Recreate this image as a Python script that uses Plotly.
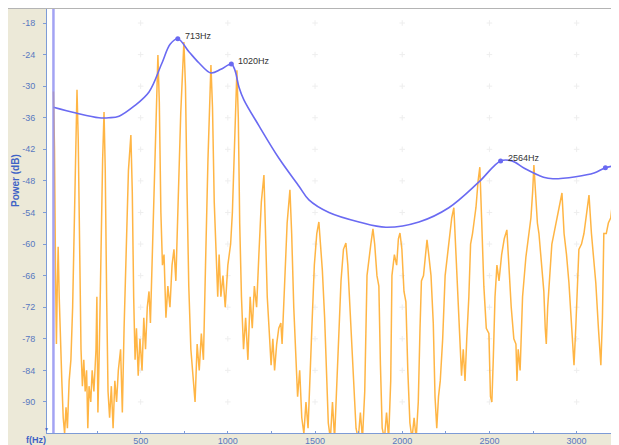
import plotly.graph_objects as go

# ---------------- data ----------------
spec_freq = [
    0, 6, 12, 17, 22, 27, 33, 40, 48, 56, 64, 72, 80, 90, 100, 110, 120, 128, 135,
    142, 150, 158, 166, 174, 182, 190, 197, 204, 214, 222, 232, 244, 249, 255, 263, 272, 282, 290,
    297, 305, 313, 322, 332, 342, 352, 362, 372, 385, 395, 405, 418, 430, 444,
    452, 460, 468, 476, 486, 496, 508, 518, 528, 538, 548, 556, 566, 578, 590, 599,
    607, 616, 625, 634, 645, 656, 668, 680, 691, 702, 715, 730, 748,
    757, 766, 776, 788, 800, 812, 824, 836, 848, 860, 872, 886, 903,
    912, 922, 932, 942, 950, 960, 972, 985, 1000, 1016, 1026, 1038, 1052,
    1060, 1068, 1078, 1090, 1102, 1115, 1128, 1140, 1152, 1165, 1178, 1192, 1207,
    1216, 1226, 1238, 1248, 1258, 1268, 1280, 1292, 1304, 1311, 1325, 1340, 1356,
    1366, 1378, 1390, 1400, 1412, 1424, 1436, 1448, 1460, 1472, 1484, 1496, 1510, 1522,
    1532, 1542, 1555, 1566, 1576, 1588, 1600, 1612, 1624, 1636, 1649, 1663, 1677,
    1688, 1700, 1712, 1723, 1735, 1748, 1760, 1772, 1785, 1798, 1810, 1820, 1832,
    1842, 1855, 1866, 1875, 1885, 1898, 1910, 1922, 1934, 1941, 1955, 1968, 1978, 1987,
    1998, 2010, 2021, 2032, 2044, 2056, 2068, 2080, 2092, 2102, 2110, 2122, 2132, 2142,
    2152, 2165, 2178, 2188, 2198, 2208, 2218, 2232, 2246, 2256, 2270, 2284, 2296,
    2306, 2318, 2330, 2340, 2350, 2360, 2370, 2382, 2392, 2403, 2415, 2423, 2435, 2445,
    2455, 2468, 2482, 2497, 2506, 2514, 2522, 2532, 2543, 2555, 2570, 2585, 2600,
    2612, 2625, 2640, 2652, 2658, 2665, 2676, 2690, 2709, 2724, 2738, 2748, 2755,
    2764, 2775, 2784, 2800, 2812, 2820, 2826, 2834, 2846, 2858, 2870, 2881, 2900, 2916,
    2928, 2942, 2956, 2970, 2985, 2995, 3005, 3013, 3028, 3042, 3058, 3071,
    3085, 3098, 3110, 3125, 3139, 3148, 3156, 3170, 3182, 3196, 3212, 3225, 3237,
]
spec_db = [
    -31, -42, -66, -79, -68, -60.5, -70, -80, -86, -93, -96, -91, -95, -86, -82, -72, -55, -40, -30.7,
    -40, -62, -80, -87, -82, -88, -84, -95, -87, -90, -84, -88, -80, -70, -92, -80, -62, -44, -34.9,
    -46, -70, -88, -93, -87, -95, -86, -90, -84, -80, -92, -76, -60, -46, -39.3,
    -50, -70, -82, -76, -85, -78, -84, -74, -80, -72, -69, -75, -62, -47, -32, -24.1,
    -33, -54, -64, -62, -74, -68, -72, -64, -61, -67, -52, -35, -21.6,
    -30, -50, -68, -80, -86, -90, -79, -84, -77, -82, -64, -44, -26,
    -34, -52, -63, -70, -62, -70, -66, -72, -64, -60, -54, -40, -27,
    -36, -56, -70, -80, -74, -82, -70, -76, -68, -72, -62, -52, -46.9,
    -56, -70, -77, -83, -78, -84, -79, -76, -75, -79, -68, -56, -49.7,
    -58, -72, -80, -89, -84, -93, -96, -90, -95, -86, -74, -64, -58, -55.8,
    -60, -65, -74, -83, -94, -97, -90, -97, -88, -76, -67, -61, -59.8,
    -64, -72, -80, -86, -95, -97, -92, -97, -88, -66, -62, -60, -57.1,
    -60, -66, -68, -83, -95, -97, -92, -97, -86, -66, -62, -64, -59, -57.9,
    -61, -69, -71, -84, -94, -97, -93, -97, -90, -76, -67, -66, -62, -59.2,
    -62, -66, -75, -89, -95, -89, -86, -78, -66, -63, -58, -55, -53.1,
    -60, -71, -78, -85, -80, -86, -78, -70, -60, -58, -55, -53, -48, -45.4,
    -55, -68, -76, -77, -89, -90, -82, -70, -64, -67, -62, -59, -57.3,
    -65, -72, -78, -79, -86, -80, -84, -70, -62.5, -58, -55, -50, -45,
    -50, -56, -58, -64, -69, -76, -79, -72, -66, -60, -58, -56, -53, -50.3,
    -58, -62, -67.4, -76, -83, -76, -66, -61, -60, -58, -54, -50.7,
    -58, -63, -67.4, -76, -83, -74, -58, -58, -56, -55, -50, -46.3, -48,
]

lpc_freq = [0, 129, 261, 318, 376, 462, 548, 620, 670, 713, 778, 835, 903, 960, 1020,
            1040, 1064, 1092, 1178, 1293, 1408, 1465, 1580, 1752, 1906, 2096, 2267,
            2440, 2564, 2629, 2700, 2810, 2864, 2995, 3100, 3165, 3237]
lpc_db = [-34.0, -35.1, -36.0, -36.0, -35.7, -33.8, -31.1, -25.8, -22.0, -21.0, -23.5, -25.6,
          -27.5, -26.8, -25.8, -26.9, -30.2, -32.6, -37.5, -43.7, -49.0, -51.6, -54.0,
          -55.8, -56.8, -55.8, -53.1, -48.2, -44.2, -44.2, -45.6, -47.3, -47.6, -47.2,
          -46.5, -45.5, -45.0]

formant_freq = [713, 1020, 2564, 3165]
formant_db = [-21.0, -25.8, -44.2, -45.5]
formant_labels = ["713Hz", "1020Hz", "2564Hz", ""]

x_ticks = [500, 1000, 1500, 2000, 2500, 3000]
x_minor = [250, 750, 1250, 1750, 2250, 2750, 3250]
y_ticks = [-18, -24, -30, -36, -42, -48, -54, -60, -66, -72, -78, -84, -90]
y_ticktext = [str(v) for v in y_ticks]

X_RANGE = [-37, 3243]
Y_RANGE = [-95.9, -15.34]

# ---------------- figure ----------------
# the page body adds an 8px offset, so the figure is 8px smaller than the window
OFF = 8
W, H = 619 - OFF, 445 - OFF
ML, MR, MT, MB = 47 - OFF, 0, 9 - OFF, 445 - 433
PW, PH = W - ML - MR, H - MT - MB


def px(xs):
    """screen x (window pixels) -> paper x"""
    return (xs - OFF - ML) / PW


def py(ys):
    """screen y (window pixels) -> paper y"""
    return (H - MB - (ys - OFF)) / PH


BEIGE = "#ECE9D8"
AXBLUE = "#5878c0"
FONT = "Liberation Sans, Arial, sans-serif"

fig = go.Figure()

# faint grid intersection marks
gx, gy = [], []
for xv in x_ticks:
    for yv in y_ticks:
        gx.append(xv)
        gy.append(yv)
fig.add_trace(go.Scatter(x=gx, y=gy, mode="markers", hoverinfo="skip",
                         marker=dict(symbol="cross-thin", size=4,
                                     line=dict(color="#eeeeee", width=1)),
                         showlegend=False))

fig.add_trace(go.Scatter(x=spec_freq, y=spec_db, mode="lines",
                         line=dict(color="rgba(255,168,35,0.85)", width=1.5),
                         showlegend=False))
fig.add_trace(go.Scatter(x=lpc_freq, y=lpc_db, mode="lines", line_shape="spline",
                         line=dict(color="#6a6af2", width=1.6), showlegend=False))
fig.add_trace(go.Scatter(x=formant_freq, y=formant_db, mode="markers",
                         marker=dict(color="#6a6af2", size=5, symbol="circle"),
                         showlegend=False))

for f, d, t in zip(formant_freq, formant_db, formant_labels):
    if t:
        fig.add_annotation(x=f, y=d, text=t, showarrow=False, xanchor="left",
                           yanchor="middle", xshift=5, yshift=3,
                           font=dict(family=FONT, size=9, color="#333333"))

shapes = [
    dict(type="rect", xref="paper", yref="paper", x0=px(8), x1=px(46.5), y0=py(446), y1=py(9),
         fillcolor=BEIGE, line=dict(width=0), layer="below"),
    dict(type="rect", xref="paper", yref="paper", x0=px(8), x1=1.0, y0=py(446), y1=py(433),
         fillcolor=BEIGE, line=dict(width=0), layer="below"),
    dict(type="line", xref="paper", yref="paper", x0=px(8), x1=1.0, y0=py(8.5), y1=py(8.5),
         line=dict(color="#b4b4b4", width=1)),
    dict(type="line", xref="x", yref="paper", x0=0, x1=0, y0=0, y1=1,
         line=dict(color="rgba(140,140,240,0.8)", width=2.5)),
]
fig.update_layout(shapes=shapes)

fig.add_annotation(xref="paper", yref="paper", x=px(15), y=py(181), text="<b>Power (dB)</b>",
                   textangle=-90, showarrow=False, xanchor="center", yanchor="middle",
                   font=dict(family=FONT, size=10, color="#3f63c6"))
fig.add_annotation(xref="paper", yref="paper", x=px(36), y=py(440), text="<b>f(Hz)</b>",
                   showarrow=False, xanchor="center", yanchor="middle",
                   font=dict(family=FONT, size=9, color="#3f63c6"))
fig.add_annotation(xref="paper", yref="paper", x=px(46.5), y=py(429), text="▼",
                   showarrow=False, xanchor="center", yanchor="middle",
                   font=dict(size=5, color="#3f63c6"))

fig.update_layout(
    width=W, height=H,
    margin=dict(l=ML, r=MR, t=MT, b=MB, pad=0, autoexpand=False),
    paper_bgcolor="white", plot_bgcolor="white",
    showlegend=False,
    xaxis=dict(range=X_RANGE, tickvals=x_ticks, showgrid=False, zeroline=False,
               automargin=False,
               showline=True, linecolor="#7d9bd6", linewidth=1,
               ticks="inside", ticklen=2, tickcolor="#7d9bd6",
               tickfont=dict(family=FONT, size=9, color=AXBLUE),
               ticklabelstandoff=-1,
               minor=dict(tickvals=x_minor, ticks="inside", ticklen=2, tickcolor="#7d9bd6")),
    yaxis=dict(range=Y_RANGE, tickvals=y_ticks, ticktext=y_ticktext, showgrid=False,
               automargin=False,
               zeroline=False, showline=True, linecolor="#7d9bd6", linewidth=1,
               ticks="outside", ticklen=3, tickcolor="#7d9bd6",
               ticklabelstandoff=6,
               tickfont=dict(family=FONT, size=9, color=AXBLUE)),
)

fig.write_html("out.html")
